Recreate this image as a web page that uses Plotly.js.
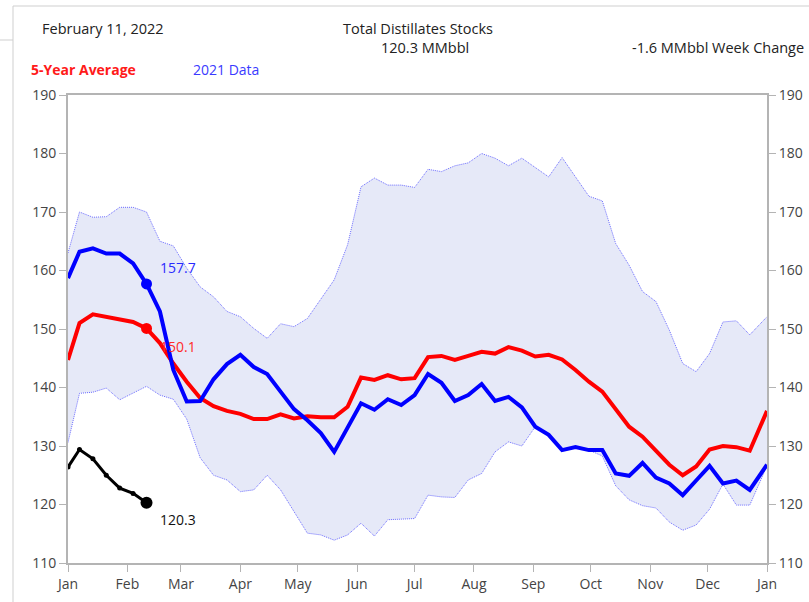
<!DOCTYPE html>
<html>
<head>
<meta charset="utf-8">
<script src="https://cdn.plot.ly/plotly-3.0.1.min.js"></script>
<style>
  html, body { margin: 0; padding: 0; background: #fff; }
  #chart { width: 809px; height: 602px; }
</style>
</head>
<body>
<div id="chart"></div>
<script>
// Week dates (positioned on a single calendar year)
const dates = [
  '2022-01-01','2022-01-07','2022-01-14','2022-01-21','2022-01-28','2022-02-04','2022-02-11',
  '2022-02-18','2022-02-25','2022-03-04','2022-03-11','2022-03-18','2022-03-25','2022-04-01',
  '2022-04-08','2022-04-15','2022-04-22','2022-04-29','2022-05-06','2022-05-13','2022-05-20',
  '2022-05-27','2022-06-03','2022-06-10','2022-06-17','2022-06-24','2022-07-01','2022-07-08',
  '2022-07-15','2022-07-22','2022-07-29','2022-08-05','2022-08-12','2022-08-19','2022-08-26',
  '2022-09-02','2022-09-09','2022-09-16','2022-09-23','2022-09-30','2022-10-07','2022-10-14',
  '2022-10-21','2022-10-28','2022-11-04','2022-11-11','2022-11-18','2022-11-25','2022-12-02',
  '2022-12-09','2022-12-16','2022-12-23','2023-01-01'
];

// 5-year average (MMbbl)
const avg5 = [
  144.7, 151.0, 152.5, 152.1, 151.6, 151.2, 150.1, 147.6, 144.1, 141.0, 138.2, 136.8, 136.0,
  135.5, 134.6, 134.6, 135.4, 134.7, 135.1, 134.9, 134.9, 136.7, 141.7, 141.3, 142.1, 141.4,
  141.6, 145.2, 145.4, 144.7, 145.4, 146.1, 145.8, 146.9, 146.3, 145.3, 145.6, 144.8, 143.0,
  141.0, 139.3, 136.2, 133.3, 131.6, 129.3, 126.8, 125.0, 126.5, 129.4, 130.0, 129.8, 129.2,
  136.0
];

// 2021 data (MMbbl)
const y2021 = [
  158.7, 163.2, 163.8, 162.9, 162.9, 161.2, 157.7, 153.0, 143.0, 137.6, 137.7, 141.4, 144.0,
  145.6, 143.5, 142.3, 139.3, 136.3, 134.4, 132.2, 129.0, 133.0, 137.3, 136.2, 138.0, 137.0,
  138.7, 142.3, 140.8, 137.7, 138.7, 140.6, 137.7, 138.4, 136.6, 133.3, 131.9, 129.3, 129.8,
  129.3, 129.3, 125.3, 124.9, 127.1, 124.6, 123.6, 121.6, 124.1, 126.6, 123.6, 124.1, 122.5,
  126.8
];

// 5-year range: maximum and minimum (MMbbl)
const max5 = [
  163.0, 170.0, 169.1, 169.2, 170.8, 170.8, 170.0, 165.0, 164.2, 160.4, 157.2, 155.5, 153.0,
  152.1, 150.1, 148.4, 150.9, 150.4, 151.8, 155.2, 158.4, 164.4, 174.3, 175.8, 174.6, 174.6,
  174.2, 177.3, 176.9, 177.9, 178.4, 180.0, 179.2, 177.9, 179.2, 177.6, 176.0, 179.3, 175.9,
  172.7, 171.9, 164.6, 160.9, 156.4, 154.7, 149.8, 144.1, 142.7, 145.8, 151.2, 151.4, 149.0,
  152.1
];
const min5 = [
  130.6, 139.0, 139.2, 139.9, 137.9, 139.0, 140.2, 138.7, 138.0, 134.6, 128.0, 125.0, 124.2,
  122.2, 122.5, 125.0, 122.5, 118.8, 115.1, 114.8, 113.9, 114.8, 116.8, 114.6, 117.4, 117.5,
  117.6, 121.6, 121.3, 121.2, 124.2, 125.3, 129.0, 130.7, 130.0, 133.3, 131.9, 129.3, 129.8,
  129.3, 128.3, 123.2, 120.8, 119.8, 119.4, 117.0, 115.6, 116.5, 119.2, 123.5, 119.9, 119.9,
  126.6
];

// 2022 data so far (MMbbl)
const y2022 = [126.4, 129.4, 127.8, 125.0, 122.8, 121.9, 120.3];

// Axis ticks
const xTickVals = ['2022-01-01','2022-02-01','2022-03-01','2022-04-01','2022-05-01','2022-06-01',
  '2022-07-01','2022-08-01','2022-09-01','2022-10-01','2022-11-01','2022-12-01','2023-01-01'];
const xTickText = ['Jan','Feb','Mar','Apr','May','Jun','Jul','Aug','Sep','Oct','Nov','Dec','Jan'];
const yTickVals = [110, 120, 130, 140, 150, 160, 170, 180, 190];

const reportDate = 'February 11, 2022';
const chartTitle = 'Total Distillates Stocks';

const last = y2022.length - 1;
const lastDate = dates[last];
const weekChange = (y2022[last] - y2022[last - 1]).toFixed(1);

const FONT = 'Open Sans, Liberation Sans, Arial, sans-serif';
const bandLine = { color: '#6c6cff', width: 1, dash: '1px,1px' };

const traces = [
  { x: dates, y: min5, mode: 'lines', line: bandLine, hoverinfo: 'skip', showlegend: false },
  { x: dates, y: max5, mode: 'lines', line: bandLine, fill: 'tonexty', fillcolor: '#e6e9f8',
    hoverinfo: 'skip', showlegend: false },
  { x: dates, y: avg5, mode: 'lines', line: { color: '#ff0000', width: 4 }, showlegend: false },
  { x: dates, y: y2021, mode: 'lines', line: { color: '#0000ff', width: 4 }, showlegend: false },
  { x: dates.slice(0, y2022.length), y: y2022, mode: 'lines+markers',
    line: { color: '#000000', width: 3 }, marker: { color: '#000000', size: 5 }, showlegend: false },
  { x: [lastDate], y: [avg5[last]], mode: 'markers', marker: { color: '#ff0000', size: 11 }, showlegend: false },
  { x: [lastDate], y: [y2021[last]], mode: 'markers', marker: { color: '#0000ff', size: 11 }, showlegend: false },
  { x: [lastDate], y: [y2022[last]], mode: 'markers', marker: { color: '#000000', size: 12 }, showlegend: false },
  // carries the right-hand axis
  { x: dates, y: max5, yaxis: 'y2', mode: 'lines', opacity: 0, hoverinfo: 'skip', showlegend: false }
];

// pixel -> paper helpers for the header texts / frame
const L = 68, R = 42, T = 95, B = 39, W = 809, H = 602;
const pw = W - L - R, ph = H - T - B;
const px = v => (v - L) / pw;
const py = v => (H - B - v) / ph;

const annotations = [
  { xref: 'paper', yref: 'paper', x: px(40), y: py(28), xanchor: 'left', yanchor: 'middle',
    text: reportDate, showarrow: false, font: { family: FONT, size: 14.5, color: '#222' } },
  { xref: 'paper', yref: 'paper', x: px(418), y: py(28), xanchor: 'center', yanchor: 'middle',
    text: chartTitle, showarrow: false, font: { family: FONT, size: 14.5, color: '#222' } },
  { xref: 'paper', yref: 'paper', x: px(425), y: py(48), xanchor: 'center', yanchor: 'middle',
    text: y2022[last].toFixed(1) + ' MMbbl', showarrow: false, font: { family: FONT, size: 14.5, color: '#222' } },
  { xref: 'paper', yref: 'paper', x: px(806), y: py(48), xanchor: 'right', yanchor: 'middle',
    text: weekChange + ' MMbbl Week Change', showarrow: false, font: { family: FONT, size: 14.5, color: '#222' } },
  { xref: 'paper', yref: 'paper', x: px(29), y: py(70), xanchor: 'left', yanchor: 'middle',
    text: '<b>5-Year Average</b>', showarrow: false, font: { family: FONT, size: 14, color: '#ff1a1a' } },
  { xref: 'paper', yref: 'paper', x: px(191), y: py(70), xanchor: 'left', yanchor: 'middle',
    text: '2021 Data', showarrow: false, font: { family: FONT, size: 14, color: '#3a3aff' } },
  { x: lastDate, y: y2021[last], xanchor: 'left', yanchor: 'middle', xshift: 11, yshift: 16,
    text: y2021[last].toFixed(1), showarrow: false, font: { family: FONT, size: 14, color: '#2a2aff' } },
  { x: lastDate, y: avg5[last], xanchor: 'left', yanchor: 'middle', xshift: 11, yshift: -18,
    text: avg5[last].toFixed(1), showarrow: false, font: { family: FONT, size: 14, color: '#ff2a2a' } },
  { x: lastDate, y: y2022[last], xanchor: 'left', yanchor: 'middle', xshift: 11, yshift: -17,
    text: y2022[last].toFixed(1), showarrow: false, font: { family: FONT, size: 14, color: '#111' } }
];

const frameColor = '#cfcfcf';
const shapes = [
  { type: 'line', xref: 'paper', yref: 'paper', x0: px(13), x1: px(13), y0: py(6), y1: py(602),
    line: { color: frameColor, width: 1 } },
  { type: 'line', xref: 'paper', yref: 'paper', x0: px(13), x1: px(809), y0: py(6), y1: py(6),
    line: { color: frameColor, width: 1 } },
  { type: 'line', xref: 'paper', yref: 'paper', x0: px(0), x1: px(13), y0: py(40), y1: py(40),
    line: { color: frameColor, width: 1 } }
];

const axisCommon = {
  showgrid: false, zeroline: false, showline: true, linecolor: '#b4b4b4', linewidth: 2,
  ticks: 'outside', ticklen: 7, tickwidth: 1, tickcolor: '#b4b4b4',
  tickfont: { family: FONT, size: 14, color: '#444' }
};

const layout = {
  width: W, height: H,
  margin: { l: L, r: R, t: T, b: B, pad: 0 },
  paper_bgcolor: '#ffffff', plot_bgcolor: '#ffffff',
  showlegend: false,
  xaxis: Object.assign({}, axisCommon, {
    type: 'date', range: ['2022-01-01', '2023-01-01'],
    tickmode: 'array', tickvals: xTickVals, ticktext: xTickText, mirror: true
  }),
  yaxis: Object.assign({}, axisCommon, {
    range: [110, 190], tickmode: 'array', tickvals: yTickVals
  }),
  yaxis2: Object.assign({}, axisCommon, {
    range: [110, 190], tickmode: 'array', tickvals: yTickVals,
    overlaying: 'y', side: 'right'
  }),
  annotations: annotations,
  shapes: shapes
};

Plotly.newPlot('chart', traces, layout, { staticPlot: true, displayModeBar: false });
</script>
</body>
</html>
